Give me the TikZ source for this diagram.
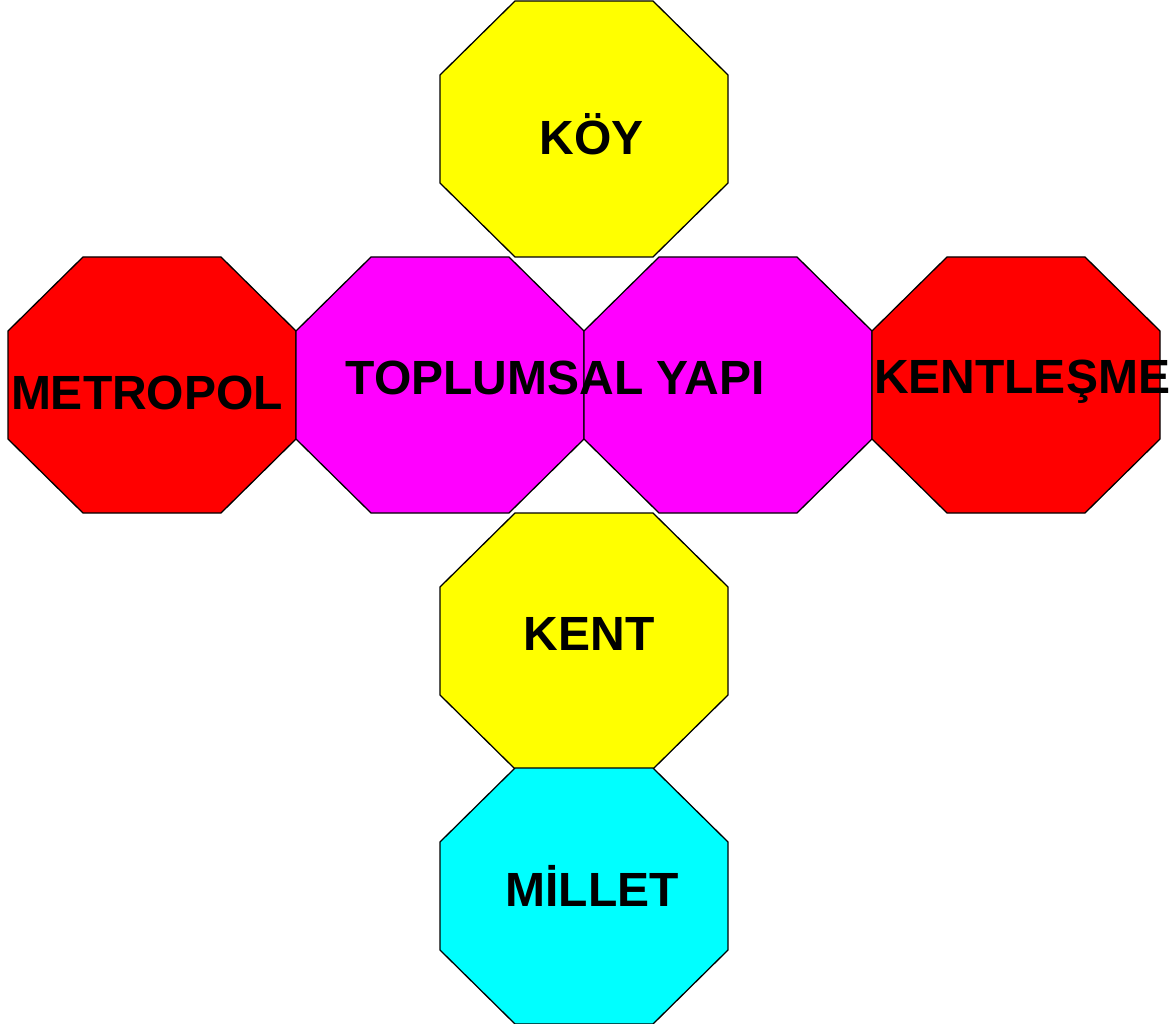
\documentclass[tikz,border=0pt]{standalone}
\usepackage{fontspec}
\setmainfont{Liberation Sans}
\begin{document}
\begin{tikzpicture}[x=1pt,y=-1pt,
  oct/.style={draw=black,line width=1.3pt,line join=miter},
  lbl/.style={font=\fontsize{48}{56}\selectfont\bfseries,anchor=base,inner sep=0pt}]
\useasboundingbox (0,0) rectangle (1173,1024);
\newcommand\octa[3]{%
  \path[oct,fill=#3] (#1+75,#2) -- (#1+213,#2) -- (#1+288,#2+74) -- (#1+288,#2+182)
    -- (#1+213,#2+256) -- (#1+75,#2+256) -- (#1,#2+182) -- (#1,#2+74) -- cycle;}
\definecolor{yel}{RGB}{255,255,0}
\definecolor{mag}{RGB}{255,0,255}
\definecolor{rd}{RGB}{255,0,0}
\definecolor{cy}{RGB}{0,255,255}
\octa{440}{1}{yel}
\octa{8}{257}{rd}
\octa{296}{257}{mag}
\octa{584}{257}{mag}
\octa{872}{257}{rd}
\octa{440}{513}{yel}
\octa{440}{768}{cy}
\node[lbl] (koy) at (592,155) {KÖY};
\node[lbl] (top) at (555,394) {TOPLUMSAL YAPI};
\node[lbl] (met) at (147,409) {METROPOL};
\node[lbl] (kle) at (1022,393) {KENTLEŞME};
\node[lbl] (kent) at (589,650) {KENT};
\node[lbl] (mil) at (592,906) {MİLLET};
\end{tikzpicture}
\end{document}
